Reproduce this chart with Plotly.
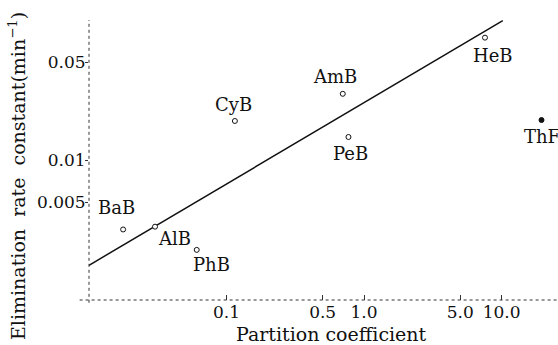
import math
import plotly.graph_objects as go

# Barbiturates: partition coefficient vs elimination rate constant (min^-1)
drugs = ["BaB", "AlB", "PhB", "CyB", "AmB", "PeB", "HeB", "ThF"]
partition = [0.0177, 0.0302, 0.0607, 0.115, 0.70, 0.77, 7.57, 19.5]
k_elim = [0.00319, 0.00334, 0.00228, 0.0190, 0.0297, 0.0146, 0.0748, 0.0193]
filled = [False, False, False, False, False, False, False, True]

# label offsets (px) relative to each point
label_dx = [-7, 19, 15, -1, -8, 2, 8, 0]
label_dy = [22, -12, -15, 16, 17, -17, -18, -16]

# regression line end points
fit_x = [0.01, 10.2]
fit_y = [0.00177, 0.0989]

x_ticks = [0.1, 0.5, 1.0, 5.0, 10.0]
x_ticktext = ["0.1", "0.5", "1.0", "5.0", "10.0"]
y_ticks = [0.005, 0.01, 0.05]
y_ticktext = ["0.005", "0.01", "0.05"]

FONT = "DejaVu Serif"
INK = "#111111"

W, H = 558, 345
L, R, T, B = 89, 0, 20, 45


def paper_x(px):
    return (px - L) / (W - L - R)


def paper_y(py):
    return (H - B - py) / (H - T - B)


fig = go.Figure()

fig.add_trace(go.Scatter(
    x=fit_x, y=fit_y, mode="lines",
    line=dict(color=INK, width=1.5),
    showlegend=False, hoverinfo="skip", cliponaxis=False,
))

open_x = [p for p, f in zip(partition, filled) if not f]
open_y = [k for k, f in zip(k_elim, filled) if not f]
solid_x = [p for p, f in zip(partition, filled) if f]
solid_y = [k for k, f in zip(k_elim, filled) if f]

fig.add_trace(go.Scatter(
    x=open_x, y=open_y, mode="markers",
    marker=dict(symbol="circle", size=5, color="white",
                line=dict(color=INK, width=1)),
    showlegend=False, cliponaxis=False,
))
fig.add_trace(go.Scatter(
    x=solid_x, y=solid_y, mode="markers",
    marker=dict(symbol="circle", size=5, color=INK,
                line=dict(color=INK, width=1)),
    showlegend=False, cliponaxis=False,
))

# point labels (annotations on log axes take log10 positions)
for name, px_, py_, dx, dy in zip(drugs, partition, k_elim, label_dx, label_dy):
    fig.add_annotation(
        x=math.log10(px_), y=math.log10(py_), xref="x", yref="y",
        text=name, showarrow=False, xanchor="center", yanchor="middle",
        xshift=dx, yshift=dy,
        font=dict(family=FONT, size=18, color=INK),
    )

# axis titles
fig.add_annotation(
    x=paper_x(331), y=paper_y(334), xref="paper", yref="paper",
    text="Partition coefficient", showarrow=False,
    xanchor="center", yanchor="middle",
    font=dict(family=FONT, size=19, color=INK),
)
fig.add_annotation(
    x=paper_x(17), y=paper_y(176), xref="paper", yref="paper",
    text="Elimination  rate  constant(min<sup>−1</sup>)",
    textangle=-90, showarrow=False, xanchor="center", yanchor="middle",
    font=dict(family=FONT, size=19, color=INK),
)

# axis lines, drawn dotted like the printed frame
fig.add_shape(type="line", xref="paper", yref="paper",
              x0=-0.02, x1=1.0, y0=0, y1=0,
              line=dict(color="#333333", width=1, dash="dot"))
fig.add_shape(type="line", xref="paper", yref="paper",
              x0=0, x1=0, y0=-0.01, y1=1.0,
              line=dict(color="#333333", width=1, dash="dot"))

fig.update_layout(
    width=W, height=H,
    margin=dict(l=L, r=R, t=T, b=B, pad=0),
    paper_bgcolor="white", plot_bgcolor="white",
    font=dict(family=FONT, size=17, color=INK),
    xaxis=dict(
        type="log", range=[-2, 1.41],
        tickvals=x_ticks, ticktext=x_ticktext,
        ticks="inside", ticklen=5, tickcolor="#333333",
        showgrid=False, zeroline=False, showline=False,
        tickfont=dict(family=FONT, size=17, color=INK),
    ),
    yaxis=dict(
        type="log", range=[-3, -1],
        tickvals=y_ticks, ticktext=y_ticktext,
        ticks="outside", ticklen=3, tickcolor="#333333",
        ticklabelstandoff=-4,
        showgrid=False, zeroline=False, showline=False,
        tickfont=dict(family=FONT, size=17, color=INK),
    ),
)

fig.write_html("out.html")
